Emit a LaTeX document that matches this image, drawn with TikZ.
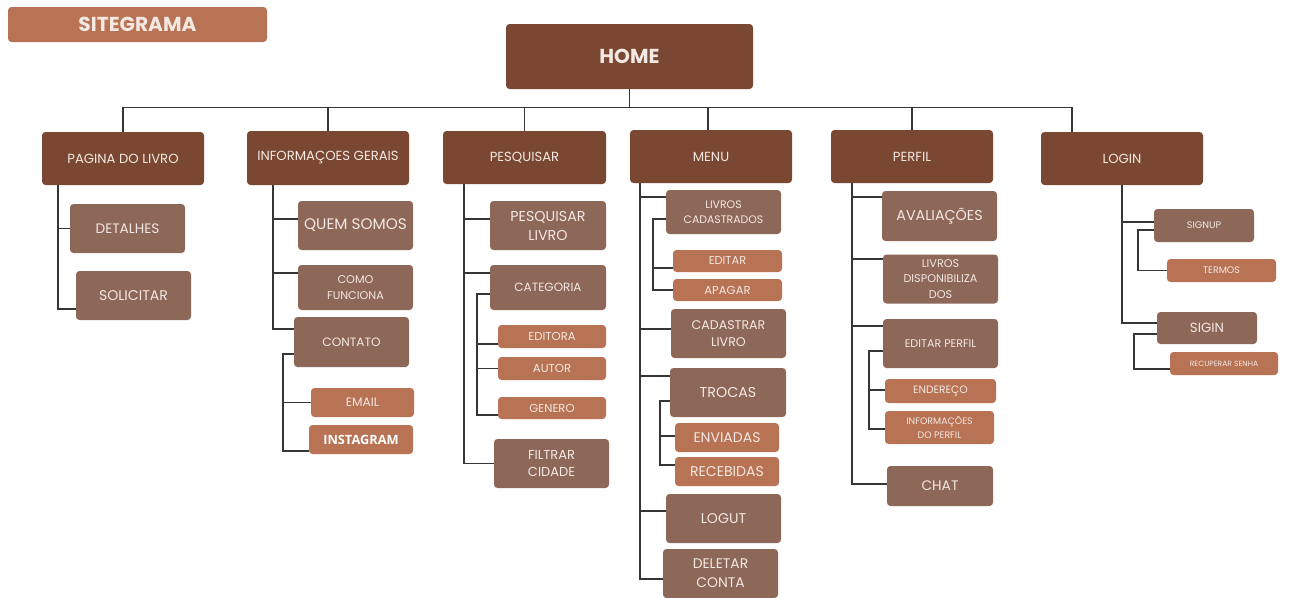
\documentclass[tikz,border=0pt]{standalone}
\usepackage{fontspec}
\setmainfont{Poppins}
\newfontfamily\instafont{Open Sans}
\definecolor{dark}{HTML}{7A4832}
\definecolor{mid}{HTML}{8D6757}
\definecolor{light}{HTML}{B87254}
\definecolor{txt}{HTML}{F3E8E2}
\definecolor{linec}{HTML}{363636}
\newcommand\fs[2]{\fontsize{#1}{#2}\selectfont}
\tikzset{
  bx/.style={rounded corners=3.5pt, inner sep=0pt, align=center, text=txt},
  dk/.style={bx, fill=dark},
  md/.style={bx, fill=mid},
  lt/.style={bx, fill=light},
  sz/.style 2 args={minimum width=#1pt, minimum height=#2pt},
  ln/.style={line width=1.4pt, draw=linec},
  lvl/.style={font=\fs{13.2}{16}}
}
\begin{document}
\begin{tikzpicture}[x=1pt,y=-1pt]
\useasboundingbox (0,0) rectangle (1293,597);
% title and root
\node[lt, sz={259}{35}, font=\fs{20.2}{22}\bfseries] (title) at (137.5,24.5) {SITEGRAMA};
\node[dk, sz={247}{65}, font=\fs{20.2}{22}\bfseries] (home) at (629.5,56.5) {HOME};
% level 1
\node[dk, sz={162}{53}, lvl] (pag) at (123,158.5) {PAGINA DO LIVRO};
\node[dk, sz={162}{54}, lvl] (info) at (328,158) {INFORMAÇOES GERAIS};
\node[dk, sz={163}{53}, lvl] (pesq) at (524.5,157.5) {PESQUISAR};
\node[dk, sz={162}{53}, lvl] (menu) at (711,156.5) {MENU};
\node[dk, sz={162}{53}, lvl] (perfil) at (912,156.5) {PERFIL};
\node[dk, sz={162}{53}, lvl] (login) at (1122,158.5) {LOGIN};
% pagina do livro
\node[md, sz={115}{49}, font=\fs{13.7}{16}] (det) at (127.5,228.5) {DETALHES};
\node[md, sz={115}{49}, font=\fs{14.1}{16}] (sol) at (133.5,295.5) {SOLICITAR};
% informacoes gerais
\node[md, sz={115}{49}, font=\fs{15.3}{17}] (quem) at (355.5,225.5) {QUEM SOMOS};
\node[md, sz={115}{45}, font=\fs{11.2}{16}] (como) at (355.5,287.5) {COMO\\FUNCIONA};
\node[md, sz={115}{50}, font=\fs{12.1}{14}] (cont) at (351.5,342) {CONTATO};
\node[lt, sz={103}{29}, font=\fs{12.2}{14}] (email) at (362.5,402.5) {EMAIL};
\node[lt, sz={104}{29}, font=\instafont\fs{12.8}{14}\bfseries, text=white] (insta) at (361,439.5) {INSTAGRAM};
% pesquisar
\node[md, sz={116}{49}, font=\fs{14.3}{19}] (pl) at (548,225.5) {PESQUISAR\\LIVRO};
\node[md, sz={116}{45}, font=\fs{12}{14}] (cat) at (548,287.5) {CATEGORIA};
\node[lt, sz={108}{23}, font=\fs{11.6}{13}] (edit) at (552,336.5) {EDITORA};
\node[lt, sz={108}{23}, font=\fs{11.6}{13}] (autor) at (552,368.5) {AUTOR};
\node[lt, sz={108}{22}, font=\fs{11.6}{13}] (gen) at (552,408) {GENERO};
\node[md, sz={115}{49}, font=\fs{13}{17.7}] (filt) at (551.5,463.5) {FILTRAR\\CIDADE};
% menu
\node[md, sz={115}{44}, font=\fs{10.9}{15.3}] (lc) at (723.5,212) {LIVROS\\CADASTRADOS};
\node[lt, sz={109}{22}, font=\fs{11.4}{13}] (ed) at (727.5,261) {EDITAR};
\node[lt, sz={109}{22}, font=\fs{11.6}{13}] (ap) at (727.5,290) {APAGAR};
\node[md, sz={115}{49}, font=\fs{12.6}{17.7}] (cad) at (728.5,333.5) {CADASTRAR\\LIVRO};
\node[md, sz={116}{49}, font=\fs{14.3}{16}] (tro) at (728,392.5) {TROCAS};
\node[lt, sz={104}{29}, font=\fs{14}{15}] (env) at (727,437.5) {ENVIADAS};
\node[lt, sz={104}{29}, font=\fs{14.1}{15}] (rec) at (727,471.5) {RECEBIDAS};
\node[md, sz={115}{49}, font=\fs{14.1}{15}] (log) at (723.5,518.5) {LOGUT};
\node[md, sz={115}{49}, font=\fs{13.9}{19.3}] (del) at (720.5,573.5) {DELETAR\\CONTA};
% perfil
\node[md, sz={115}{50}, font=\fs{14.3}{15}] (av) at (939.5,216) {AVALIAÇÕES};
\node[md, sz={115}{49}, font=\fs{11.2}{15.7}] (ld) at (940.5,279) {LIVROS\\DISPONIBILIZA\\DOS};
\node[md, sz={115}{49}, font=\fs{11.1}{13}] (ep) at (940.5,343.5) {EDITAR PERFIL};
\node[lt, sz={111}{24}, font=\fs{10.7}{12}] (end) at (940.5,391) {ENDEREÇO};
\node[lt, sz={109}{33}, font=\fs{9.4}{13.3}] (ip) at (939.5,427.5) {INFORMAÇÕES\\DO PERFIL};
\node[md, sz={106}{40}, font=\fs{13.8}{15}] (chat) at (940,486) {CHAT};
% login
\node[md, sz={100}{33}, font=\fs{9.6}{11}] (su) at (1204,225.5) {SIGNUP};
\node[lt, sz={109}{23}, font=\fs{9.5}{11}] (ter) at (1221.5,270.5) {TERMOS};
\node[md, sz={100}{32}, font=\fs{13.3}{15}] (sg) at (1207,328) {SIGIN};
\node[lt, sz={108}{23}, font=\fs{7.6}{9}] (rs) at (1224,363.5) {RECUPERAR SENHA};
% top-level connectors
\coordinate (bus) at ([yshift=-18pt]home.south);
\coordinate (loginstem) at ([xshift=-50pt]login.north);
\coordinate (menustem) at ([xshift=-3pt]menu.north);
\draw[ln] (home.south) -- (bus);
\draw[ln] (pag.north) -- (pag.north |- bus) -- (bus -| loginstem) -- (loginstem);
\draw[ln] (info.north) -- (info.north |- bus);
\draw[ln] (pesq.north) -- (pesq.north |- bus);
\draw[ln] (menustem) -- (menustem |- bus);
\draw[ln] (perfil.north) -- (perfil.north |- bus);
% pagina do livro
\coordinate (pagS) at ([xshift=16pt]pag.south west);
\draw[ln] (pagS) |- ([yshift=-13.5pt]sol.west);
\draw[ln] (det.west) -- (det.west -| pagS);
% informacoes
\coordinate (infoS) at ([xshift=26pt]info.south west);
\draw[ln] (infoS) |- ([yshift=13pt]cont.west);
\draw[ln] ([yshift=6.5pt]quem.west) -- ([yshift=6.5pt]quem.west -| infoS);
\draw[ln] ([yshift=14.5pt]como.west) -- ([yshift=14.5pt]como.west -| infoS);
\coordinate (contS) at ([xshift=-11pt,yshift=-12pt]cont.west);
\draw[ln] ([yshift=-12pt]cont.west) -- (contS) |- ([yshift=-11.5pt]insta.west);
\draw[ln] (email.west) -- (email.west -| contS);
% pesquisar
\coordinate (pesqS) at ([xshift=21pt]pesq.south west);
\draw[ln] (pesqS) |- (filt.west);
\draw[ln] ([yshift=6.5pt]pl.west) -- ([yshift=6.5pt]pl.west -| pesqS);
\draw[ln] ([yshift=14.5pt]cat.west) -- ([yshift=14.5pt]cat.west -| pesqS);
\coordinate (catS) at ([xshift=-13pt,yshift=-6.5pt]cat.west);
\draw[ln] ([yshift=-6.5pt]cat.west) -- (catS) |- ([yshift=-7pt]gen.west);
\draw[ln] ([yshift=-7.5pt]edit.west) -- ([yshift=-7.5pt]edit.west -| catS);
\draw[ln] (autor.west) -- (autor.west -| catS);
% menu
\coordinate (menuS) at ([xshift=10pt]menu.south west);
\draw[ln] (menuS) |- ([yshift=-5.5pt]del.west);
\draw[ln] ([yshift=15pt]lc.west) -- ([yshift=15pt]lc.west -| menuS);
\draw[ln] ([yshift=4.5pt]cad.west) -- ([yshift=4.5pt]cad.west -| menuS);
\draw[ln] ([yshift=16.5pt]tro.west) -- ([yshift=16.5pt]tro.west -| menuS);
\draw[ln] ([yshift=7.5pt]log.west) -- ([yshift=7.5pt]log.west -| menuS);
\coordinate (lcS) at ([xshift=-13pt,yshift=-7pt]lc.west);
\draw[ln] ([yshift=-7pt]lc.west) -- (lcS) |- (ap.west);
\draw[ln] ([yshift=-7pt]ed.west) -- ([yshift=-7pt]ed.west -| lcS);
\coordinate (troS) at ([xshift=-10pt,yshift=-8.5pt]tro.west);
\draw[ln] ([yshift=-8.5pt]tro.west) -- (troS) |- ([yshift=6.5pt]rec.west);
\draw[ln] ([yshift=1.5pt]env.west) -- ([yshift=1.5pt]env.west -| troS);
% perfil
\coordinate (perfS) at ([xshift=21pt]perfil.south west);
\draw[ln] (perfS) |- ([yshift=2pt]chat.west);
\draw[ln] ([yshift=19pt]av.west) -- ([yshift=19pt]av.west -| perfS);
\draw[ln] ([yshift=20pt]ld.west) -- ([yshift=20pt]ld.west -| perfS);
\draw[ln] ([yshift=17.5pt]ep.west) -- ([yshift=17.5pt]ep.west -| perfS);
\coordinate (epS) at ([xshift=-14pt,yshift=-7.5pt]ep.west);
\draw[ln] ([yshift=-7.5pt]ep.west) -- (epS) |- ([yshift=-1.5pt]ip.west);
\draw[ln] ([yshift=1pt]end.west) -- ([yshift=1pt]end.west -| epS);
% login
\coordinate (logS) at ([xshift=81pt]login.south west);
\draw[ln] (logS) |- ([yshift=5pt]sg.west);
\draw[ln] ([yshift=3.5pt]su.west) -- ([yshift=3.5pt]su.west -| logS);
\coordinate (suS) at ([xshift=-16pt,yshift=-4.5pt]su.west);
\draw[ln] ([yshift=-4.5pt]su.west) -- (suS) |- (ter.west);
\coordinate (sgS) at ([xshift=-23pt,yshift=-6pt]sg.west);
\draw[ln] ([yshift=-6pt]sg.west) -- (sgS) |- ([yshift=-5.5pt]rs.west);
\end{tikzpicture}
\end{document}
